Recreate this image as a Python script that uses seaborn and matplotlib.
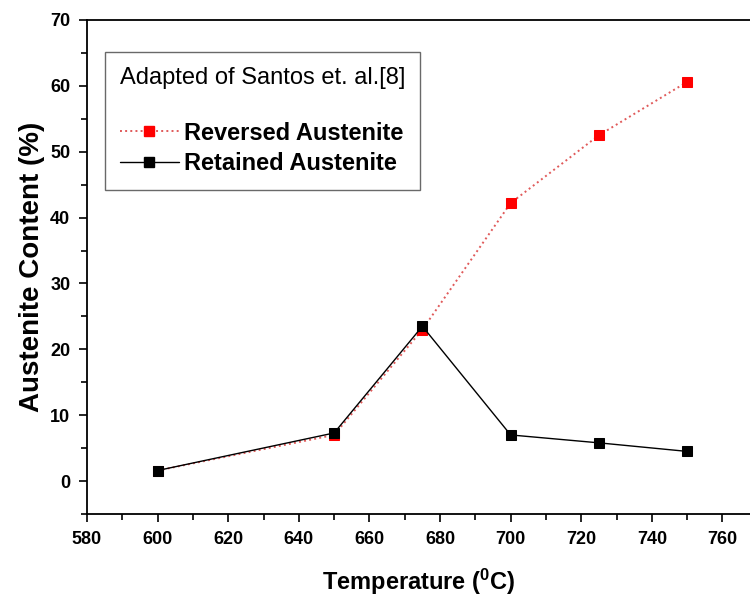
import matplotlib
matplotlib.use("Agg")
import matplotlib.pyplot as plt
import seaborn as sns
import pandas as pd
from matplotlib.ticker import MultipleLocator
from matplotlib.lines import Line2D

temperature = [600, 650, 675, 700, 725, 750]
reversed_austenite = [1.6, 7.0, 23.0, 42.2, 52.5, 60.6]
retained_austenite = [1.6, 7.3, 23.5, 7.0, 5.8, 4.5]
series_names = ["Reversed Austenite", "Retained Austenite"]
legend_title = "Adapted of Santos et. al.[8]"
x_label = r"Temperature ($^{0}$C)"
y_label = "Austenite Content (%)"

sns.set_theme(style="ticks")
plt.rcParams['font.family'] = ['Liberation Sans', 'DejaVu Sans']
plt.rcParams['text.color'] = 'black'
plt.rcParams['axes.labelcolor'] = 'black'
plt.rcParams['xtick.color'] = 'black'
plt.rcParams['ytick.color'] = 'black'
plt.rcParams['mathtext.fontset'] = 'custom'
plt.rcParams['mathtext.rm'] = 'Liberation Sans:bold'
plt.rcParams['mathtext.it'] = 'Liberation Sans:bold'
plt.rcParams['mathtext.bf'] = 'Liberation Sans:bold'

fig = plt.figure(figsize=(7.5, 5.98), dpi=100)
ax = fig.add_axes([0.116, 0.1405, 0.884, 0.8261])

df_rev = pd.DataFrame({"T": temperature, "A": reversed_austenite})
df_ret = pd.DataFrame({"T": temperature, "A": retained_austenite})

red = "#ff0000"
line_red = "#e05a5a"
sns.lineplot(data=df_rev, x="T", y="A", ax=ax, color=line_red, linestyle=":",
             linewidth=1.4, marker="s", markersize=7.5, markerfacecolor=red,
             markeredgecolor=red, zorder=2)
sns.lineplot(data=df_ret, x="T", y="A", ax=ax, color="black", linestyle="-",
             linewidth=1.0, marker="s", markersize=7.5, markerfacecolor="black",
             markeredgecolor="black", zorder=3)

ax.set_xlim(580, 767.8)
ax.set_ylim(-5, 70)
ax.xaxis.set_major_locator(MultipleLocator(20))
ax.xaxis.set_minor_locator(MultipleLocator(10))
ax.yaxis.set_major_locator(MultipleLocator(10))
ax.yaxis.set_minor_locator(MultipleLocator(5))
ax.tick_params(axis="both", which="major", direction="out", length=6, width=1.2,
               labelsize=13, pad=6, color="black", labelcolor="black")
ax.tick_params(axis="both", which="minor", direction="out", length=4, width=1.2,
               color="black")
for lbl in ax.get_xticklabels() + ax.get_yticklabels():
    lbl.set_fontweight("bold")
ax.spines["right"].set_visible(False)
for s in ["left", "bottom", "top"]:
    ax.spines[s].set_linewidth(1.3)
    ax.spines[s].set_color("black")

ax.set_xlabel(x_label, fontsize=17, fontweight="bold", labelpad=14)
ax.set_ylabel(y_label, fontsize=20, fontweight="bold", labelpad=4)

handles = [
    Line2D([], [], color=line_red, linestyle=":", linewidth=1.4, marker="s",
           markersize=7.5, markerfacecolor=red, markeredgecolor=red),
    Line2D([], [], color="black", linestyle="-", linewidth=1.0, marker="s",
           markersize=7.5, markerfacecolor="black", markeredgecolor="black"),
]
leg = ax.legend(handles, series_names, title=legend_title + "\n",
                loc="upper left", bbox_to_anchor=(0.027, 0.935),
                prop={"weight": "bold", "size": 17}, title_fontsize=17,
                frameon=True, fancybox=False, edgecolor="#444444",
                handlelength=2.5, handletextpad=0.25, labelspacing=0.32,
                borderpad=0.62, borderaxespad=0)
leg.get_frame().set_linewidth(1.0)
leg._legend_box.align = "left"
leg.get_title().set_color("black")

fig.savefig("out.png", dpi=100)
